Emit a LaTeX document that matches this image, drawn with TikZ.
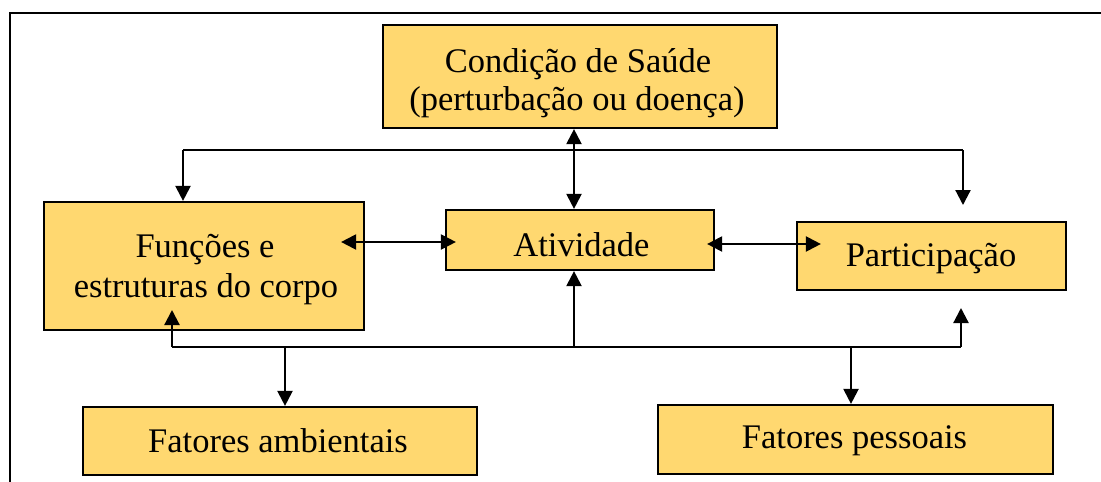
\documentclass[tikz,border=0pt]{standalone}
\usepackage{fontspec}
\setmainfont{Liberation Serif}
\usetikzlibrary{arrows.meta}
\definecolor{boxfill}{RGB}{255,216,112}
\tikzset{
  box/.style={draw=black, line width=2.2pt, fill=boxfill, inner sep=0pt},
  txt/.style={inner sep=0pt, anchor=base, font=\fontsize{34.5}{39}\selectfont},
  conn/.style={line width=2.2pt, draw=black},
  tip/.tip={Triangle[length=15pt,width=15pt]},
  arr/.style={conn, -tip},
  dbl/.style={conn, tip-tip},
}
\begin{document}
\begin{tikzpicture}[x=1pt,y=-1pt]
\useasboundingbox (0,0) rectangle (1101,482);
% frame
\draw[line width=2.2pt] (10,482) -- (10,13) -- (1101,13);
% boxes
\node[box, minimum width=394pt, minimum height=103pt] (cond) at (580,76.5) {};
\node[box, minimum width=320pt, minimum height=128pt] (func) at (204,266) {};
\node[box, minimum width=268pt, minimum height=60pt] (ativ) at (580,240) {};
\node[box, minimum width=269pt, minimum height=68pt] (part) at (931.5,256) {};
\node[box, minimum width=394pt, minimum height=68pt] (famb) at (280,441) {};
\node[box, minimum width=395pt, minimum height=69pt] (fpes) at (855.5,439.5) {};
% texts
\node[txt] (condt1) at (578,72) {Condição de Saúde};
\node[txt] (condt2) at (577,110) {(perturbação ou doença)};
\node[txt] (funct1) at (205,257) {Funções e};
\node[txt] (funct2) at (206,297) {estruturas do corpo};
\node[txt] (ativt) at (581.5,256) {Atividade};
\node[txt] (partt) at (931,266) {Participação};
\node[txt] (fambt) at (278,452) {Fatores ambientais};
\node[txt] (fpest) at (854.5,448) {Fatores pessoais};
% bus coordinates
\coordinate (tl) at (183,150);
\coordinate (tr) at (963,150);
\coordinate (ptop) at (963,205);
\coordinate (bl) at (172,347);
\coordinate (br) at (961,347);
\coordinate (pbot) at (961,308);
\coordinate (fin) at (172,310);
\coordinate (ja) at (285,347);
\coordinate (jp) at (851,347);
% condition <-> activity
\draw[dbl] ([xshift=-6pt]cond.south) -- ([xshift=-6pt]ativ.north);
% top bus
\draw[conn] (tl) -- (tr);
\draw[arr] (tl) -- (tl |- func.north);
\draw[arr] (tr) -- (ptop);
% horizontal double arrows
\draw[dbl] ([xshift=-24pt,yshift=24pt]func.east) -- ([xshift=11pt,yshift=-2pt]ativ.west);
\draw[dbl] ([xshift=-8pt,yshift=-4pt]ativ.east) -- ([xshift=25pt,yshift=12pt]part.west);
% bottom bus
\draw[conn] (bl) -- (br);
\draw[arr] (bl) -- (fin);
\draw[arr] (br) -- (pbot);
\draw[arr] ([xshift=-6pt]ativ.south |- bl) -- ([xshift=-6pt]ativ.south);
\draw[arr] (ja) -- (ja |- famb.north);
\draw[arr] (jp) -- (jp |- fpes.north);
\end{tikzpicture}
\end{document}
